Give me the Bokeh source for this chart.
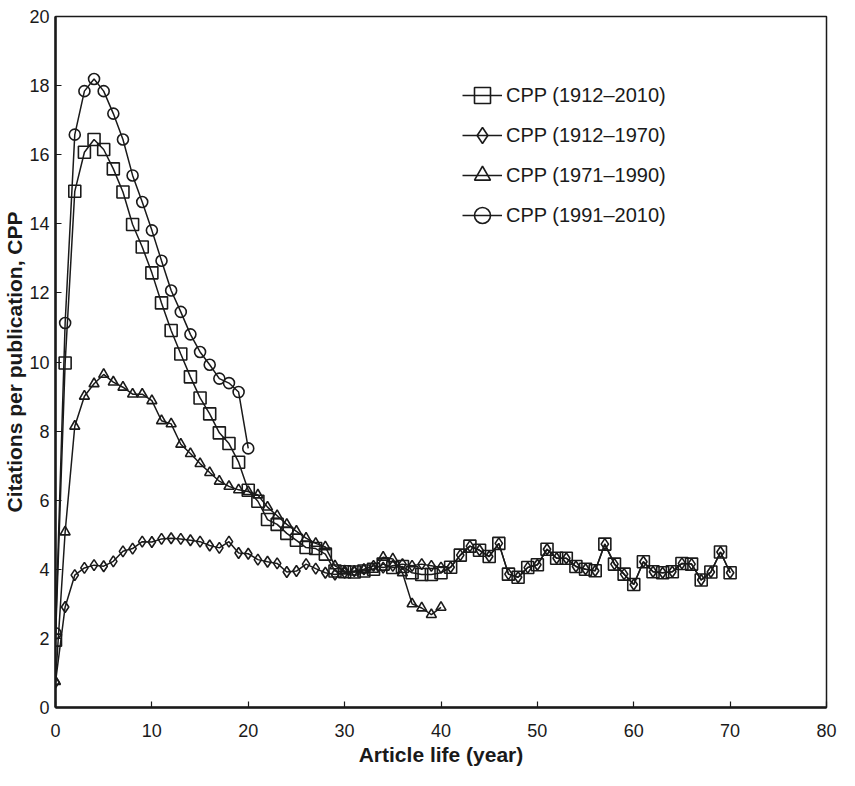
from bokeh.plotting import figure
from bokeh.models import Range1d, Legend, LegendItem, FixedTicker
from bokeh.embed import file_html
from bokeh.resources import INLINE

# ---- data ----
years_1912_2010 = list(range(0, 71))
cpp_1912_2010 = [1.95, 9.97, 14.94, 16.07, 16.44, 16.15, 15.59, 14.92, 13.98, 13.33,
                 12.58, 11.71, 10.91, 10.23, 9.57, 8.96, 8.50, 7.95, 7.64, 7.10,
                 6.29, 5.97, 5.44, 5.30, 5.04, 4.84, 4.63, 4.60, 4.44, 3.95,
                 3.93, 3.92, 3.95, 4.00, 4.15, 4.05, 4.08, 3.90, 3.85, 3.85,
                 3.90, 4.06, 4.41, 4.67, 4.55, 4.37, 4.75, 3.86, 3.77, 4.05,
                 4.13, 4.58, 4.32, 4.32, 4.08, 4.00, 3.96, 4.73, 4.15, 3.86,
                 3.56, 4.22, 3.93, 3.90, 3.93, 4.17, 4.15, 3.69, 3.92, 4.50,
                 3.90]

years_1912_1970 = list(range(0, 71))
cpp_1912_1970 = [0.73, 2.91, 3.83, 4.04, 4.12, 4.09, 4.23, 4.52, 4.60, 4.80,
                 4.79, 4.88, 4.90, 4.88, 4.84, 4.80, 4.69, 4.62, 4.80, 4.47,
                 4.45, 4.28, 4.22, 4.17, 3.92, 3.95, 4.15, 4.02, 3.90, 3.85,
                 3.90, 3.95, 4.00, 4.10, 4.05, 4.10, 4.15, 4.10, 4.15, 4.10,
                 4.05, 4.06, 4.41, 4.67, 4.55, 4.37, 4.75, 3.86, 3.77, 4.05,
                 4.13, 4.58, 4.32, 4.32, 4.08, 4.00, 3.96, 4.73, 4.15, 3.86,
                 3.56, 4.22, 3.93, 3.90, 3.93, 4.17, 4.15, 3.69, 3.92, 4.50,
                 3.90]

years_1971_1990 = list(range(0, 41))
cpp_1971_1990 = [0.75, 5.08, 8.14, 9.01, 9.37, 9.64, 9.42, 9.27, 9.07, 9.07,
                 8.88, 8.30, 8.21, 7.62, 7.35, 7.06, 6.80, 6.55, 6.40, 6.30,
                 6.25, 6.15, 5.80, 5.55, 5.30, 5.10, 4.90, 4.75, 4.65, 4.10,
                 3.95, 3.92, 3.98, 4.00, 4.35, 4.30, 3.90, 3.00, 2.88, 2.69,
                 2.90]

years_1991_2010 = list(range(0, 21))
cpp_1991_2010 = [2.15, 11.13, 16.58, 17.84, 18.19, 17.84, 17.19, 16.44, 15.40, 14.63,
                 13.81, 12.93, 12.07, 11.45, 10.80, 10.29, 9.92, 9.52, 9.39, 9.13,
                 7.50]

labels = ["CPP (1912\u20132010)", "CPP (1912\u20131970)", "CPP (1971\u20131990)", "CPP (1991\u20132010)"]
x_ticks = [0, 10, 20, 30, 40, 50, 60, 70, 80]
y_ticks = [0, 2, 4, 6, 8, 10, 12, 14, 16, 18, 20]

FONT = "Liberation Sans"
INK = "#1a1a1a"

p = figure(width=839, height=770, x_range=Range1d(0, 80), y_range=Range1d(0, 20),
           output_backend="svg", toolbar_location=None,
           min_border_left=40, min_border_right=13, min_border_top=16, min_border_bottom=63)

p.xgrid.visible = False
p.ygrid.visible = False
p.outline_line_color = INK
p.outline_line_width = 1.5
p.background_fill_color = "white"
p.border_fill_color = "white"

for ax in (p.xaxis[0], p.yaxis[0]):
    ax.axis_line_color = INK
    ax.axis_line_width = 2.5
    ax.major_tick_line_color = INK
    ax.major_tick_line_width = 1.2
    ax.major_tick_in = 6
    ax.major_tick_out = 0
    ax.minor_tick_line_color = None
    ax.major_label_text_font = FONT
    ax.major_label_text_font_size = "18px"
    ax.major_label_text_color = INK
    ax.axis_label_text_font = FONT
    ax.axis_label_text_font_size = "21px"
    ax.axis_label_text_font_style = "bold"
    ax.axis_label_text_color = INK

p.xaxis.ticker = FixedTicker(ticks=x_ticks)
p.yaxis.ticker = FixedTicker(ticks=y_ticks)
p.xaxis.axis_label = "Article life (year)"
p.yaxis.axis_label = "Citations per publication, CPP"
p.xaxis.major_label_standoff = 16
p.yaxis.major_label_standoff = 6
p.xaxis.axis_label_standoff = 3
p.yaxis.axis_label_standoff = 0

series = [
    (years_1912_2010, cpp_1912_2010, "square", 12),
    (years_1912_1970, cpp_1912_1970, "diamond", 11),
    (years_1971_1990, cpp_1971_1990, "triangle", 10),
    (years_1991_2010, cpp_1991_2010, "circle", 11),
]

items = []
for (xs, ys, mk, sz), lab in zip(series, labels):
    r_line = p.line(xs, ys, line_color=INK, line_width=1.5)
    r_mark = p.scatter(xs, ys, marker=mk, size=sz, line_color=INK, line_width=1.6,
                       fill_color=None)
    items.append(LegendItem(label=lab, renderers=[r_line, r_mark]))

legend = Legend(items=items, location=(407, 472), orientation="vertical",
                glyph_width=40, glyph_height=40, label_height=40, spacing=0,
                padding=0, margin=0, label_standoff=4,
                label_text_font=FONT, label_text_font_size="20px",
                label_text_color=INK, border_line_color=None,
                background_fill_alpha=0)
p.add_layout(legend)

open("out.html", "w").write(file_html(p, INLINE))
